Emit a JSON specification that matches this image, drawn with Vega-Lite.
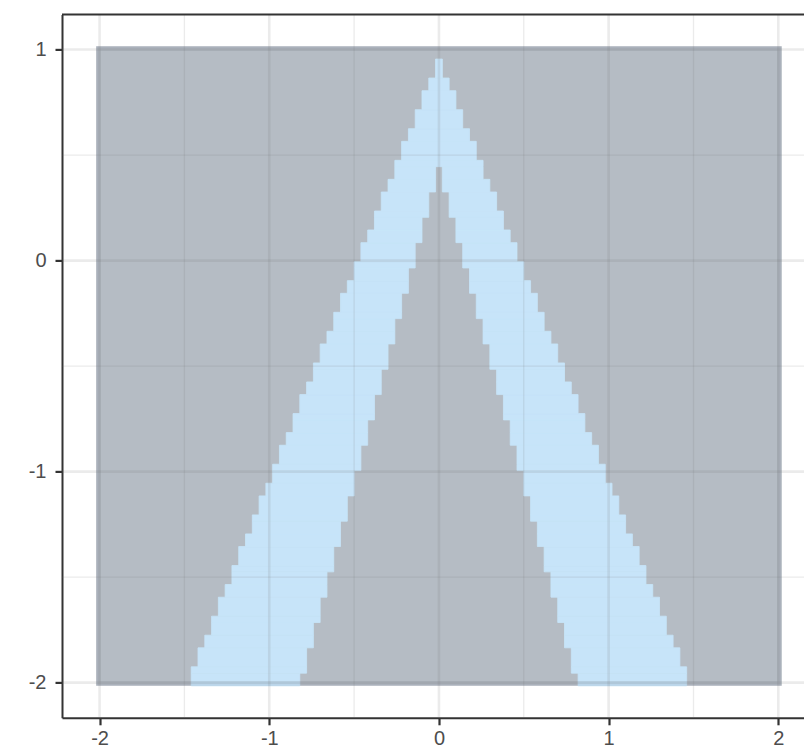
{
  "$schema": "https://vega.github.io/schema/vega-lite/v6.json",
  "width": 742,
  "height": 703.4,
  "autosize": {"type": "none"},
  "padding": {"left": 62, "top": 14.4, "right": 0, "bottom": 29.2},
  "background": "white",
  "config": {
    "view": {"stroke": null},
    "axis": {
      "grid": false,
      "zindex": 1,
      "domainColor": "#333333",
      "domainWidth": 2,
      "tickColor": "#333333",
      "tickWidth": 2.2,
      "tickSize": 7,
      "labelFont": "Liberation Sans",
      "labelFontSize": 20,
      "labelColor": "#4d4d4d",
      "title": null,
      "labelFlush": false,
      "labelOverlap": false
    }
  },
  "datasets": {
    "frame": [{"x1": -2.02, "x2": 2.02, "y1": -2.015, "y2": 1.015}],
    "band": [
      {"y1": -2.015, "y2": -1.955, "x1": -1.46, "x2": -0.82}, {"y1": -2.015, "y2": -1.955, "x1": 0.82, "x2": 1.46},
      {"y1": -1.955, "y2": -1.925, "x1": -1.46, "x2": -0.78}, {"y1": -1.955, "y2": -1.925, "x1": 0.78, "x2": 1.46},
      {"y1": -1.925, "y2": -1.835, "x1": -1.42, "x2": -0.78}, {"y1": -1.925, "y2": -1.835, "x1": 0.78, "x2": 1.42},
      {"y1": -1.835, "y2": -1.775, "x1": -1.38, "x2": -0.74}, {"y1": -1.835, "y2": -1.775, "x1": 0.74, "x2": 1.38},
      {"y1": -1.775, "y2": -1.715, "x1": -1.34, "x2": -0.74}, {"y1": -1.775, "y2": -1.715, "x1": 0.74, "x2": 1.34},
      {"y1": -1.715, "y2": -1.685, "x1": -1.34, "x2": -0.70}, {"y1": -1.715, "y2": -1.685, "x1": 0.70, "x2": 1.34},
      {"y1": -1.685, "y2": -1.595, "x1": -1.30, "x2": -0.70}, {"y1": -1.685, "y2": -1.595, "x1": 0.70, "x2": 1.30},
      {"y1": -1.595, "y2": -1.535, "x1": -1.26, "x2": -0.66}, {"y1": -1.595, "y2": -1.535, "x1": 0.66, "x2": 1.26},
      {"y1": -1.535, "y2": -1.475, "x1": -1.22, "x2": -0.66}, {"y1": -1.535, "y2": -1.475, "x1": 0.66, "x2": 1.22},
      {"y1": -1.475, "y2": -1.445, "x1": -1.22, "x2": -0.62}, {"y1": -1.475, "y2": -1.445, "x1": 0.62, "x2": 1.22},
      {"y1": -1.445, "y2": -1.355, "x1": -1.18, "x2": -0.62}, {"y1": -1.445, "y2": -1.355, "x1": 0.62, "x2": 1.18},
      {"y1": -1.355, "y2": -1.295, "x1": -1.14, "x2": -0.58}, {"y1": -1.355, "y2": -1.295, "x1": 0.58, "x2": 1.14},
      {"y1": -1.295, "y2": -1.235, "x1": -1.10, "x2": -0.58}, {"y1": -1.295, "y2": -1.235, "x1": 0.58, "x2": 1.10},
      {"y1": -1.235, "y2": -1.205, "x1": -1.10, "x2": -0.54}, {"y1": -1.235, "y2": -1.205, "x1": 0.54, "x2": 1.10},
      {"y1": -1.205, "y2": -1.115, "x1": -1.06, "x2": -0.54}, {"y1": -1.205, "y2": -1.115, "x1": 0.54, "x2": 1.06},
      {"y1": -1.115, "y2": -1.055, "x1": -1.02, "x2": -0.50}, {"y1": -1.115, "y2": -1.055, "x1": 0.50, "x2": 1.02},
      {"y1": -1.055, "y2": -0.995, "x1": -0.98, "x2": -0.50}, {"y1": -1.055, "y2": -0.995, "x1": 0.50, "x2": 0.98},
      {"y1": -0.995, "y2": -0.965, "x1": -0.98, "x2": -0.46}, {"y1": -0.995, "y2": -0.965, "x1": 0.46, "x2": 0.98},
      {"y1": -0.965, "y2": -0.875, "x1": -0.94, "x2": -0.46}, {"y1": -0.965, "y2": -0.875, "x1": 0.46, "x2": 0.94},
      {"y1": -0.875, "y2": -0.815, "x1": -0.90, "x2": -0.42}, {"y1": -0.875, "y2": -0.815, "x1": 0.42, "x2": 0.90},
      {"y1": -0.815, "y2": -0.755, "x1": -0.86, "x2": -0.42}, {"y1": -0.815, "y2": -0.755, "x1": 0.42, "x2": 0.86},
      {"y1": -0.755, "y2": -0.725, "x1": -0.86, "x2": -0.38}, {"y1": -0.755, "y2": -0.725, "x1": 0.38, "x2": 0.86},
      {"y1": -0.725, "y2": -0.635, "x1": -0.82, "x2": -0.38}, {"y1": -0.725, "y2": -0.635, "x1": 0.38, "x2": 0.82},
      {"y1": -0.635, "y2": -0.575, "x1": -0.78, "x2": -0.34}, {"y1": -0.635, "y2": -0.575, "x1": 0.34, "x2": 0.78},
      {"y1": -0.575, "y2": -0.515, "x1": -0.74, "x2": -0.34}, {"y1": -0.575, "y2": -0.515, "x1": 0.34, "x2": 0.74},
      {"y1": -0.515, "y2": -0.485, "x1": -0.74, "x2": -0.30}, {"y1": -0.515, "y2": -0.485, "x1": 0.30, "x2": 0.74},
      {"y1": -0.485, "y2": -0.395, "x1": -0.70, "x2": -0.30}, {"y1": -0.485, "y2": -0.395, "x1": 0.30, "x2": 0.70},
      {"y1": -0.395, "y2": -0.335, "x1": -0.66, "x2": -0.26}, {"y1": -0.395, "y2": -0.335, "x1": 0.26, "x2": 0.66},
      {"y1": -0.335, "y2": -0.275, "x1": -0.62, "x2": -0.26}, {"y1": -0.335, "y2": -0.275, "x1": 0.26, "x2": 0.62},
      {"y1": -0.275, "y2": -0.245, "x1": -0.62, "x2": -0.22}, {"y1": -0.275, "y2": -0.245, "x1": 0.22, "x2": 0.62},
      {"y1": -0.245, "y2": -0.155, "x1": -0.58, "x2": -0.22}, {"y1": -0.245, "y2": -0.155, "x1": 0.22, "x2": 0.58},
      {"y1": -0.155, "y2": -0.095, "x1": -0.54, "x2": -0.18}, {"y1": -0.155, "y2": -0.095, "x1": 0.18, "x2": 0.54},
      {"y1": -0.095, "y2": -0.035, "x1": -0.50, "x2": -0.18}, {"y1": -0.095, "y2": -0.035, "x1": 0.18, "x2": 0.50},
      {"y1": -0.035, "y2": -0.005, "x1": -0.50, "x2": -0.14}, {"y1": -0.035, "y2": -0.005, "x1": 0.14, "x2": 0.50},
      {"y1": -0.005, "y2": 0.085, "x1": -0.46, "x2": -0.14}, {"y1": -0.005, "y2": 0.085, "x1": 0.14, "x2": 0.46},
      {"y1": 0.085, "y2": 0.145, "x1": -0.42, "x2": -0.10}, {"y1": 0.085, "y2": 0.145, "x1": 0.10, "x2": 0.42},
      {"y1": 0.145, "y2": 0.205, "x1": -0.38, "x2": -0.10}, {"y1": 0.145, "y2": 0.205, "x1": 0.10, "x2": 0.38},
      {"y1": 0.205, "y2": 0.235, "x1": -0.38, "x2": -0.06}, {"y1": 0.205, "y2": 0.235, "x1": 0.06, "x2": 0.38},
      {"y1": 0.235, "y2": 0.325, "x1": -0.34, "x2": -0.06}, {"y1": 0.235, "y2": 0.325, "x1": 0.06, "x2": 0.34},
      {"y1": 0.325, "y2": 0.385, "x1": -0.30, "x2": -0.02}, {"y1": 0.325, "y2": 0.385, "x1": 0.02, "x2": 0.30},
      {"y1": 0.385, "y2": 0.445, "x1": -0.26, "x2": -0.02}, {"y1": 0.385, "y2": 0.445, "x1": 0.02, "x2": 0.26},
      {"y1": 0.445, "y2": 0.475, "x1": -0.26, "x2": 0.26},
      {"y1": 0.475, "y2": 0.565, "x1": -0.22, "x2": 0.22},
      {"y1": 0.565, "y2": 0.625, "x1": -0.18, "x2": 0.18},
      {"y1": 0.625, "y2": 0.715, "x1": -0.14, "x2": 0.14},
      {"y1": 0.715, "y2": 0.805, "x1": -0.10, "x2": 0.10},
      {"y1": 0.805, "y2": 0.865, "x1": -0.06, "x2": 0.06},
      {"y1": 0.865, "y2": 0.955, "x1": -0.02, "x2": 0.02}
    ],
    "gridx": [{"v": -2}, {"v": -1}, {"v": 0}, {"v": 1}, {"v": 2}],
    "gridy": [{"v": -2}, {"v": -1}, {"v": 0}, {"v": 1}],
    "minorx": [{"v": -1.5}, {"v": -0.5}, {"v": 0.5}, {"v": 1.5}],
    "minory": [{"v": -1.5}, {"v": -0.5}, {"v": 0.5}]
  },
  "layer": [
    {
      "data": {"name": "frame"},
      "mark": {"type": "rect", "fill": "#b5bcc4"},
      "encoding": {
        "x": {"field": "x1", "type": "quantitative", "scale": {"domain": [-2.2215, 2.1514], "nice": false, "zero": false},
              "axis": {"values": [-2, -1, 0, 1, 2], "labelPadding": 4, "labelExpr": "'' + datum.value"}},
        "x2": {"field": "x2"},
        "y": {"field": "y1", "type": "quantitative", "scale": {"domain": [-2.1665, 1.1665], "nice": false, "zero": false},
              "axis": {"values": [-2, -1, 0, 1], "labelPadding": 9, "labelExpr": "'' + datum.value"}},
        "y2": {"field": "y2"}
      }
    },
    {
      "data": {"name": "band"},
      "mark": {"type": "rect", "fill": "#c7e4f9", "stroke": "#c7e4f9", "strokeWidth": 0.8},
      "encoding": {
        "x": {"field": "x1", "type": "quantitative"},
        "x2": {"field": "x2"},
        "y": {"field": "y1", "type": "quantitative"},
        "y2": {"field": "y2"}
      }
    },
    {
      "data": {"name": "frame"},
      "mark": {"type": "rect", "filled": false, "stroke": "#4f5d6b", "strokeOpacity": 0.1, "strokeWidth": 4.5,
               "xOffset": 2.25, "x2Offset": -2.25, "yOffset": -2.25, "y2Offset": 2.25},
      "encoding": {
        "x": {"field": "x1", "type": "quantitative"},
        "x2": {"field": "x2"},
        "y": {"field": "y1", "type": "quantitative"},
        "y2": {"field": "y2"}
      }
    },
    {
      "data": {"name": "gridx"},
      "mark": {"type": "rule", "stroke": "#737373", "strokeOpacity": 0.143, "strokeWidth": 2.6},
      "encoding": {"x": {"field": "v", "type": "quantitative"}}
    },
    {
      "data": {"name": "gridy"},
      "mark": {"type": "rule", "stroke": "#737373", "strokeOpacity": 0.143, "strokeWidth": 2.6},
      "encoding": {"y": {"field": "v", "type": "quantitative"}}
    },
    {
      "data": {"name": "minorx"},
      "mark": {"type": "rule", "stroke": "#737373", "strokeOpacity": 0.143, "strokeWidth": 1.3},
      "encoding": {"x": {"field": "v", "type": "quantitative"}}
    },
    {
      "data": {"name": "minory"},
      "mark": {"type": "rule", "stroke": "#737373", "strokeOpacity": 0.143, "strokeWidth": 1.3},
      "encoding": {"y": {"field": "v", "type": "quantitative"}}
    },
    {
      "data": {"values": [{}]},
      "mark": {"type": "rule", "stroke": "#333333", "strokeWidth": 2},
      "encoding": {"y": {"datum": 1.1665, "type": "quantitative"}}
    }
  ]
}
